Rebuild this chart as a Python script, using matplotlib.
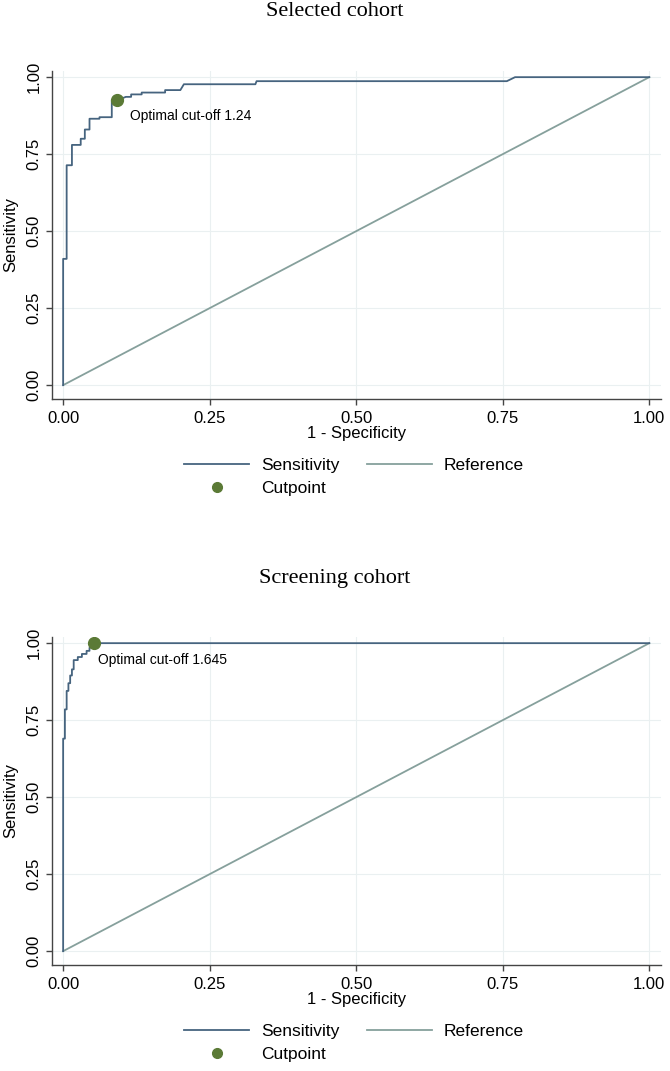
import matplotlib
matplotlib.use('Agg')
import matplotlib.pyplot as plt
from matplotlib.lines import Line2D
import numpy as np

plt.rcParams['font.family'] = ['Liberation Sans', 'DejaVu Sans']

# ROC points (1 - specificity, sensitivity)
sel_fpr = [0, 0, 0.006, 0.006, 0.015, 0.015, 0.030, 0.030, 0.037, 0.037, 0.045, 0.045,
           0.062, 0.062, 0.083, 0.083, 0.092, 0.107, 0.116, 0.116, 0.134, 0.134,
           0.174, 0.174, 0.200, 0.206, 0.328, 0.330, 0.757, 0.771, 1.0]
sel_tpr = [0, 0.41, 0.41, 0.714, 0.714, 0.78, 0.78, 0.80, 0.80, 0.83, 0.83, 0.865,
           0.865, 0.87, 0.87, 0.925, 0.925, 0.936, 0.936, 0.944, 0.944, 0.95,
           0.95, 0.958, 0.958, 0.977, 0.977, 0.987, 0.987, 1.0, 1.0]
sel_cut = (0.092, 0.925)
sel_label = 'Optimal cut-off 1.24'

scr_fpr = [0, 0, 0.003, 0.003, 0.006, 0.006, 0.009, 0.009, 0.012, 0.012, 0.015, 0.015,
           0.018, 0.018, 0.025, 0.025, 0.032, 0.032, 0.040, 0.040, 0.045, 0.045, 0.052, 1.0]
scr_tpr = [0, 0.69, 0.69, 0.785, 0.785, 0.845, 0.845, 0.87, 0.87, 0.895, 0.895, 0.915,
           0.915, 0.945, 0.945, 0.955, 0.955, 0.965, 0.965, 0.975, 0.975, 0.985, 1.0, 1.0]
scr_cut = (0.052, 1.0)
scr_label = 'Optimal cut-off 1.645'

titles = ['Selected cohort', 'Screening cohort']
ticks = [0, 0.25, 0.5, 0.75, 1.0]
tick_labels = ['0.00', '0.25', '0.50', '0.75', '1.00']

sens_col = '#46647f'
ref_col = '#86a09c'
cut_col = '#5b7a36'
grid_col = '#eaf0f1'
axis_col = '#444444'

W, H = 670, 1071
fig = plt.figure(figsize=(6.7, 10.71), dpi=100)

panels = [(sel_fpr, sel_tpr, sel_cut, sel_label, (9, -11)),
          (scr_fpr, scr_tpr, scr_cut, scr_label, (3, -12))]

for i, (fpr, tpr, cut, lab, off) in enumerate(panels):
    shift = 566 * i
    # axes box in pixels: left 52, right 661, top 71, bottom 399
    ax = fig.add_axes([52 / W, 1 - (399 + shift) / H, 609 / W, 328 / H])
    ax.set_xlim(-0.019, 1.02)
    ax.set_ylim(-0.045, 1.02)

    ax.plot([0, 1], [0, 1], color=ref_col, lw=1.3, zorder=2)
    ax.plot(fpr, tpr, color=sens_col, lw=1.3, zorder=3)
    ax.plot([cut[0]], [cut[1]], 'o', color=cut_col, ms=8.5, zorder=4)
    ax.annotate(lab, xy=cut, xytext=off, textcoords='offset points',
                ha='left', va='center', fontsize=10)

    ax.set_xticks(ticks)
    ax.set_xticklabels(tick_labels)
    ax.set_yticks(ticks)
    ax.set_yticklabels(tick_labels, rotation=90, va='center')
    ax.grid(True, color=grid_col, lw=0.8)
    ax.set_axisbelow(True)
    for s in ['top', 'right']:
        ax.spines[s].set_visible(False)
    for s in ['left', 'bottom']:
        ax.spines[s].set_color(axis_col)
        ax.spines[s].set_linewidth(1.0)
    ax.tick_params(direction='out', length=4.5, width=1, color=axis_col,
                   labelsize=12, pad=3)
    ax.tick_params(axis='x', pad=4)
    ax.set_xlabel('1 - Specificity', fontsize=12, labelpad=0)
    ax.set_ylabel('Sensitivity', fontsize=12, va='center')
    ax.yaxis.set_label_coords(-0.068, 0.5)

    fig.text(0.5, 1 - (12 + shift) / H, titles[i], ha='center', va='center',
             fontsize=16, family='Liberation Serif')

    handles = [Line2D([], [], color=sens_col, lw=1.3),
               Line2D([], [], marker='o', ls='', color=cut_col, ms=7),
               Line2D([], [], color=ref_col, lw=1.3)]
    labels = ['Sensitivity', 'Cutpoint', 'Reference']
    fig.legend(handles, labels, loc='upper left', ncol=2,
               bbox_to_anchor=(184 / W, 1 - (458 + shift) / H),
               frameon=False, fontsize=12.5, handlelength=3.75, handletextpad=0.7,
               columnspacing=1.55, labelspacing=0.45, borderpad=0, borderaxespad=0)

fig.savefig('out.png', dpi=100)
